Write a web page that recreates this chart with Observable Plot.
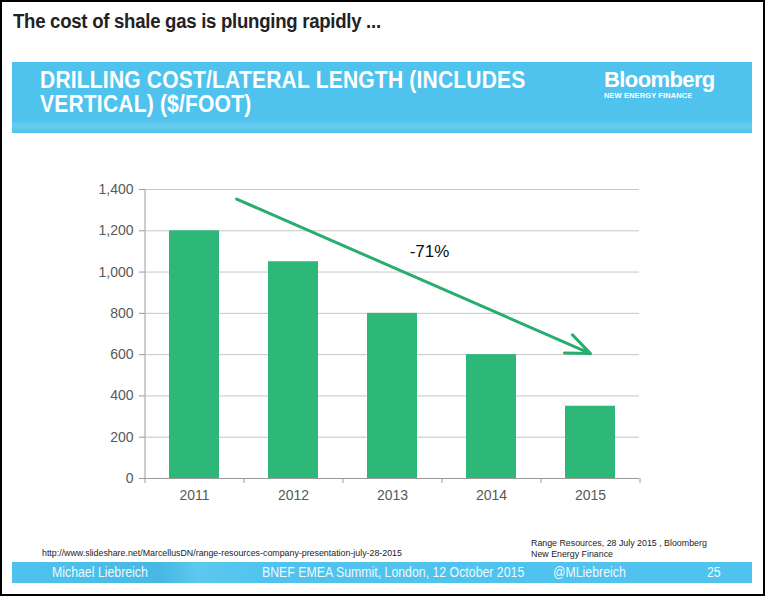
<!DOCTYPE html>
<html><head><meta charset="utf-8">
<script src="https://cdn.jsdelivr.net/npm/d3@7"></script>
<script src="https://cdn.jsdelivr.net/npm/@observablehq/plot@0.6"></script>
<style>
html,body{margin:0;padding:0;background:#fff;}
#page{position:relative;width:765px;height:596px;box-sizing:border-box;border:2px solid #000;overflow:hidden;font-family:"Liberation Sans",Arial,sans-serif;}
.nar{display:inline-block;transform-origin:0 0;white-space:nowrap;}
#title{position:absolute;left:11px;top:8px;font-weight:bold;font-size:20px;color:#222;letter-spacing:-0.3px;transform:scaleX(0.93);}
#banner{position:absolute;left:10px;top:60px;width:740px;height:71px;background:linear-gradient(#4fc3ee 0%,#4fc3ee 82%,#6bcdf0 90%,#4fc1ea 100%);}
#btitle{position:absolute;left:28px;top:6px;color:#fff;font-weight:bold;font-size:23px;line-height:24px;letter-spacing:0.2px;transform:scaleX(0.915);}
#logo{position:absolute;left:592px;top:6px;color:#fff;font-weight:bold;}
#logo .b{font-size:22px;letter-spacing:-0.6px;line-height:24px;}
#logo .n{font-size:7.5px;line-height:8px;letter-spacing:0.1px;}
#chart{position:absolute;left:84px;top:171px;}
.src{position:absolute;font-size:9.5px;color:#222;transform:scaleX(0.93);}
#footer{position:absolute;left:10px;top:560px;width:740px;height:21px;background:linear-gradient(90deg,#4fc3ee 0%,#46b8e4 20%,#5cc8ef 25%,#4fc3ee 35%,#4fc3ee 100%);color:#eef8fd;font-size:14px;}
#footer span{position:absolute;top:2px;transform:scaleX(0.88);}
</style></head>
<body><div id="page">
<div id="title" class="nar">The cost of shale gas is plunging rapidly ...</div>
<div id="banner">
  <div id="btitle" class="nar">DRILLING COST/LATERAL LENGTH (INCLUDES<br>VERTICAL) ($/FOOT)</div>
  <div id="logo"><div class="b">Bloomberg</div><div class="n">NEW ENERGY FINANCE</div></div>
</div>
<div id="chart"></div>
<div class="src nar" style="left:40px;top:545px;">http://www.slideshare.net/MarcellusDN/range-resources-company-presentation-july-28-2015</div>
<div class="src nar" style="left:529px;top:535px;line-height:11px;">Range Resources, 28 July 2015 , Bloomberg<br>New Energy Finance</div>
<div id="footer">
  <span class="nar" style="left:40px;">Michael Liebreich</span>
  <span class="nar" style="left:250px;">BNEF EMEA Summit, London, 12 October 2015</span>
  <span class="nar" style="left:541px;">@MLiebreich</span>
  <span class="nar" style="left:695px;">25</span>
</div>
</div>
<script>
const years = ["2011","2012","2013","2014","2015"];
const costs = [1200, 1050, 800, 600, 350];
const yTicks = [0,200,400,600,800,1000,1200,1400];
const arrowFrom = {year: "2011", value: 1443};
const arrowTo = {year: "2015", value: 605};
const changeLabel = {year: "2013", value: 1100, text: "-71%"};

const data = years.map((y,i)=>({year:y, cost:costs[i]}));
const W = 563, H = 340, ml = 58, mr = 10, mt = 16, mb = 35;
const step = (W - ml - mr) / years.length;
const green = "#2db87a";
const axisGrey = "#9a9a9a";
const fmt = d3.format(",");
const tickLen = 1400 / (H - mt - mb) * 5; // 5px in data units

const plot = Plot.plot({
  width: W, height: H,
  marginLeft: ml, marginRight: mr, marginTop: mt, marginBottom: mb,
  style: {fontFamily: "'Liberation Sans', Arial, sans-serif", fontSize: "13.5px", color: "#595959", background: "transparent"},
  x: {domain: years, paddingInner: 0.5, paddingOuter: 0.25, label: null, axis: null},
  y: {domain: [0, 1400], label: null, axis: null},
  marks: [
    Plot.ruleY(yTicks.filter(d=>d>0), {stroke: "#c6c6c6", strokeWidth: 1}),
    Plot.barY(data, {x: "year", y: "cost", fill: green}),
    Plot.ruleY([0], {stroke: axisGrey, strokeWidth: 1}),
    Plot.ruleX([years[0]], {y1: 0, y2: 1400, dx: -step/2, stroke: axisGrey}),
    Plot.ruleX(years, {y1: 0, y2: -tickLen, dx: -step/2, stroke: axisGrey}),
    Plot.ruleX([years[years.length-1]], {y1: 0, y2: -tickLen, dx: step/2, stroke: axisGrey}),
    Plot.axisY({ticks: yTicks, tickFormat: fmt, tickSize: 5, tickPadding: 6, stroke: axisGrey, color: "#595959", fontSize: 14}),
    Plot.axisX({tickSize: 0, tickPadding: 12, color: "#595959", fontSize: 14}),
    Plot.arrow([0], {
      x1: () => arrowFrom.year, y1: () => arrowFrom.value,
      x2: () => arrowTo.year, y2: () => arrowTo.value,
      stroke: "#29ad6e", strokeWidth: 3, headLength: 13, headAngle: 45, insetStart: 46
    }),
    Plot.text([changeLabel], {x: "year", y: "value", text: "text", dx: 37, fill: "#111", fontSize: 17})
  ]
});
document.getElementById("chart").appendChild(plot);
</script>
</body></html>
